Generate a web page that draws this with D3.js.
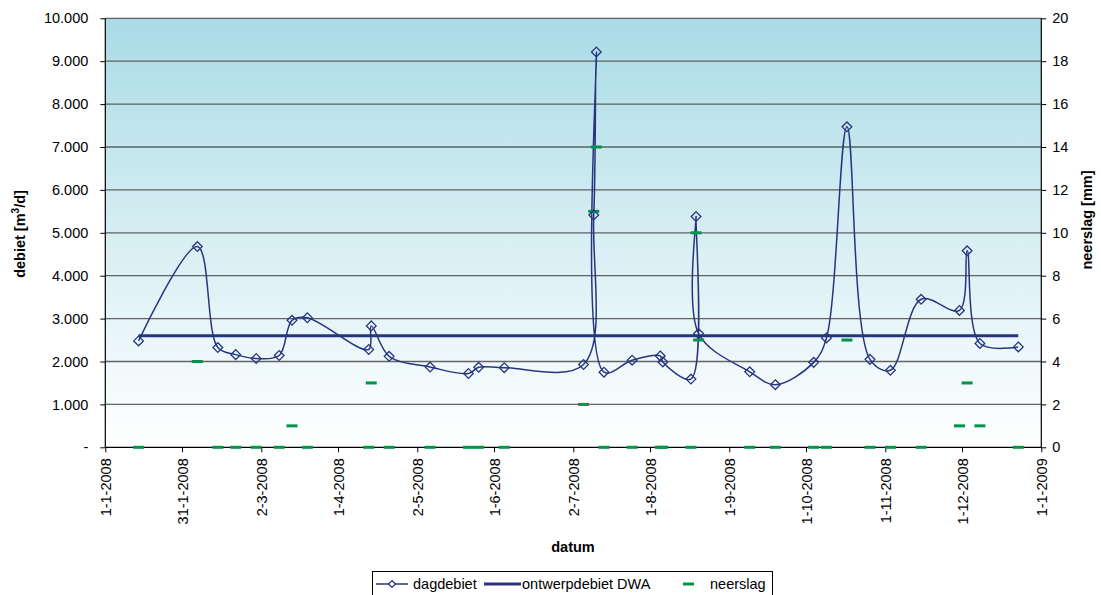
<!DOCTYPE html>
<html>
<head>
<meta charset="utf-8">
<script src="https://cdn.jsdelivr.net/npm/d3@7"></script>
<style>
  html, body { margin: 0; padding: 0; background: #ffffff; }
  svg { display: block; font-family: "Liberation Sans", Arial, sans-serif; }
</style>
</head>
<body>
<svg id="chart" width="1101" height="595"></svg>
<script>
// ---- data ----
const dates = ["2008-01-14","2008-02-06","2008-02-14","2008-02-21","2008-02-29","2008-03-09","2008-03-14","2008-03-20",
  "2008-04-13","2008-04-14","2008-04-21","2008-05-07","2008-05-22","2008-05-26","2008-06-05","2008-07-06","2008-07-10",
  "2008-07-11","2008-07-14","2008-07-25","2008-08-05","2008-08-06","2008-08-17","2008-08-19","2008-08-20","2008-09-09",
  "2008-09-19","2008-10-04","2008-10-09","2008-10-17","2008-10-26","2008-11-03","2008-11-15","2008-11-30","2008-12-03",
  "2008-12-08","2008-12-23"];
const dagdebiet = [2480,4680,2325,2160,2070,2140,2960,3020,
  2280,2830,2120,1870,1720,1865,1855,1930,5415,
  9215,1750,2030,2130,1990,1590,5380,2650,1760,
  1460,1980,2550,7470,2050,1795,3450,3190,4580,
  2420,2340];
const neerslag = [0,4,0,0,0,0,1,0,
  0,3,0,0,0,0,0,2,11,
  14,0,0,0,0,0,10,5,0,
  0,0,0,5,0,0,0,1,3,
  1,0];
const dwaValue = 2600;
const xTickLabels = ["1-1-2008","31-1-2008","2-3-2008","1-4-2008","2-5-2008","1-6-2008","2-7-2008",
  "1-8-2008","1-9-2008","1-10-2008","1-11-2008","1-12-2008","1-1-2009"];
const yLeftTicks = [0,1000,2000,3000,4000,5000,6000,7000,8000,9000,10000];
const yLeftLabels = ["-","1.000","2.000","3.000","4.000","5.000","6.000","7.000","8.000","9.000","10.000"];
const yRightTicks = [0,2,4,6,8,10,12,14,16,18,20];

// ---- layout ----
const L = 105.3, R = 1041.3, T = 18.3, B = 447.3;
const svg = d3.select("#chart");
const parse = d3.timeParse("%Y-%m-%d");
const parseTick = d3.timeParse("%d-%m-%Y");
const dDates = dates.map(parse);
const tickDates = xTickLabels.map(parseTick);

const x = d3.scaleTime().domain([tickDates[0], tickDates[tickDates.length - 1]]).range([L, R]);
const y = d3.scaleLinear().domain([0, 10000]).range([B, T]);
const y2 = d3.scaleLinear().domain([0, 20]).range([B, T]);

const navy = "#27357f";
const green = "#009449";
const fontSize = "14.5px";

// background gradient
const defs = svg.append("defs");
const grad = defs.append("linearGradient").attr("id", "bg").attr("x1", 0).attr("y1", 0).attr("x2", 0).attr("y2", 1);
grad.append("stop").attr("offset", "0%").attr("stop-color", "#a9dbe6");
grad.append("stop").attr("offset", "50%").attr("stop-color", "#d6eef3");
grad.append("stop").attr("offset", "100%").attr("stop-color", "#ffffff");
svg.append("rect").attr("x", L).attr("y", T).attr("width", R - L).attr("height", B - T).attr("fill", "url(#bg)");

// gridlines
svg.append("g").selectAll("line").data(yLeftTicks.slice(1)).join("line")
  .attr("x1", L).attr("x2", R).attr("y1", d => y(d)).attr("y2", d => y(d))
  .attr("stroke", "#4a4a4a").attr("stroke-width", 1.3).attr("stroke-opacity", 0.85);

// axes
const leftAxis = d3.axisLeft(y).tickValues(yLeftTicks).tickSize(5).tickPadding(12)
  .tickFormat((d, i) => yLeftLabels[i]);
const gL = svg.append("g").attr("transform", `translate(${L},0)`).call(leftAxis);
const rightAxis = d3.axisRight(y2).tickValues(yRightTicks).tickSize(5).tickPadding(6);
const gR = svg.append("g").attr("transform", `translate(${R},0)`).call(rightAxis);
const bottomAxis = d3.axisBottom(x).tickValues(tickDates).tickSize(5)
  .tickFormat((d, i) => xTickLabels[i]);
const gB = svg.append("g").attr("transform", `translate(0,${B})`).call(bottomAxis);

[gL, gR, gB].forEach(g => {
  g.select(".domain").attr("stroke", "#000").attr("stroke-width", 1.2);
  g.selectAll(".tick line").attr("stroke", "#000").attr("stroke-width", 1);
  g.selectAll(".tick text").attr("fill", "#000").style("font-size", fontSize)
    .style("font-family", "'Liberation Sans', Arial, sans-serif");
});
gL.select(".domain").attr("d", `M0,${T}V${B}`);
gR.select(".domain").attr("d", `M0,${T}V${B}`);
gB.select(".domain").attr("d", `M${L},0H${R}`);
gB.selectAll(".tick text")
  .attr("transform", "rotate(-90)")
  .attr("text-anchor", "end")
  .attr("x", -11).attr("y", 0).attr("dy", "0.35em");

// axis titles
svg.append("text").attr("transform", "translate(25,234) rotate(-90)")
  .attr("text-anchor", "middle").attr("font-weight", "bold").style("font-size", fontSize)
  .html('debiet [m<tspan dy="-6" style="font-size:10px">3</tspan><tspan dy="6">/d]</tspan>');
svg.append("text").attr("transform", "translate(1092,220) rotate(-90)")
  .attr("text-anchor", "middle").attr("font-weight", "bold").style("font-size", fontSize)
  .text("neerslag [mm]");
svg.append("text").attr("x", 573).attr("y", 552)
  .attr("text-anchor", "middle").attr("font-weight", "bold").style("font-size", fontSize)
  .text("datum");

// DWA line
svg.append("line")
  .attr("x1", x(dDates[0])).attr("x2", x(dDates[dDates.length - 1]))
  .attr("y1", y(dwaValue)).attr("y2", y(dwaValue))
  .attr("stroke", navy).attr("stroke-width", 3);

// dagdebiet smooth line
const line = d3.line().x((d, i) => x(dDates[i])).y(d => y(d)).curve(d3.curveCatmullRom.alpha(0.5));
svg.append("path").datum(dagdebiet).attr("d", line)
  .attr("fill", "none").attr("stroke", navy).attr("stroke-width", 1.5);

// neerslag dashes
svg.append("g").selectAll("line").data(neerslag).join("line")
  .attr("x1", (d, i) => x(dDates[i]) - 5.5).attr("x2", (d, i) => x(dDates[i]) + 5.5)
  .attr("y1", d => y2(d)).attr("y2", d => y2(d))
  .attr("stroke", green).attr("stroke-width", 3);

// diamonds
const diamond = d3.symbol().type(d3.symbolDiamond2).size(60);
svg.append("g").selectAll("path").data(dagdebiet).join("path")
  .attr("d", diamond)
  .attr("transform", (d, i) => `translate(${x(dDates[i])},${y(d)})`)
  .attr("fill", "none").attr("stroke", navy).attr("stroke-width", 1.3);

// legend
const lg = svg.append("g");
lg.append("rect").attr("x", 372.5).attr("y", 571.5).attr("width", 400).attr("height", 30)
  .attr("fill", "#fff").attr("stroke", "#000").attr("stroke-width", 1);
const ly = 584;
lg.append("line").attr("x1", 376).attr("x2", 408).attr("y1", ly).attr("y2", ly).attr("stroke", navy).attr("stroke-width", 1.5);
lg.append("path").attr("d", d3.symbol().type(d3.symbolDiamond2).size(30)).attr("transform", `translate(392,${ly})`)
  .attr("fill", "#fff").attr("stroke", navy).attr("stroke-width", 1.3);
lg.append("text").attr("x", 413).attr("y", ly).attr("dy", "0.35em").style("font-size", fontSize).text("dagdebiet");
lg.append("line").attr("x1", 484).attr("x2", 521).attr("y1", ly).attr("y2", ly).attr("stroke", navy).attr("stroke-width", 3);
lg.append("text").attr("x", 522).attr("y", ly).attr("dy", "0.35em").style("font-size", fontSize).text("ontwerpdebiet DWA");
lg.append("line").attr("x1", 683).attr("x2", 694).attr("y1", ly).attr("y2", ly).attr("stroke", green).attr("stroke-width", 3);
lg.append("text").attr("x", 710).attr("y", ly).attr("dy", "0.35em").style("font-size", fontSize).text("neerslag");
</script>
</body>
</html>
